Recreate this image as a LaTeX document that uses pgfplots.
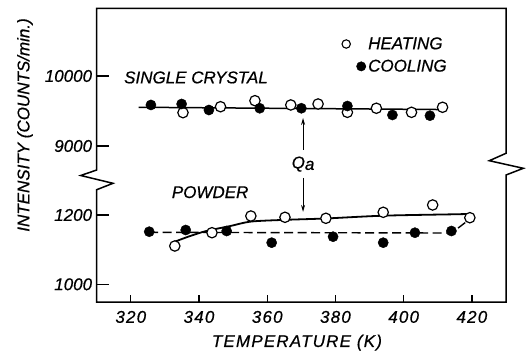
\documentclass[border=0pt]{standalone}
\usepackage{fontspec}
\setmainfont{Liberation Sans}[FakeBold=0.6]
\newfontfamily\widefont[LetterSpace=7,FakeBold=0.6]{Liberation Sans}
\usepackage{pgfplots}
\usepackage{pgfplotstable}
\usetikzlibrary{arrows.meta}
\pgfplotsset{compat=1.18}

\newcommand\lab{\fontsize{17bp}{20bp}\selectfont\itshape}
\newcommand\widelab{\fontsize{17bp}{20bp}\selectfont\widefont\itshape}

% single crystal, counts/min
\pgfplotstableread{
T I
325.9 9586
334.9 9600
342.9 9514
357.8 9539
370.0 9539
383.5 9571
396.7 9443
407.7 9433
}\crystalcool
\pgfplotstableread{
T I
335.3 9476
346.3 9561
356.4 9647
366.9 9586
374.9 9600
383.5 9481
392.0 9539
402.3 9481
411.4 9553
}\crystalheat
\pgfplotstableread{
T I
322.3 9553
410.0 9521
}\crystalfit

% powder, counts/min
\pgfplotstableread{
T I
325.4 1151.8
336.1 1156.7
348.1 1153.8
361.3 1120.1
379.3 1137.4
394.0 1120.1
403.3 1148.9
414.0 1153.8
}\powdercool
\pgfplotstableread{
T I
332.9 1110.5
343.8 1148.9
355.2 1197.1
365.2 1193.4
377.2 1190.5
394.0 1207.8
408.5 1228.9
419.4 1192.2
}\powderheat
\pgfplotstableread{
T I
332.9 1123
337.3 1139
342.2 1154
349.1 1168
355.2 1181
365.2 1186
377.2 1190
394.0 1198
414.5 1202
419.4 1203
}\powderheatfit
\pgfplotstableread{
T I
325.4 1150
414.0 1148
419.4 1188
}\powdercoolfit

\pgfplotsset{
  brk/.style={
    scale only axis, width=409.3bp, height=293.5bp,
    xmin=310, xmax=430, clip=false,
    axis line style={draw=none},
    scaled ticks=false,
    tick align=inside, tick pos=left,
    tick style={line width=1.3bp, black},
    major tick length=12bp,
    yticklabel style={font=\lab, inner sep=0pt, xshift=-4.4bp},
    xticklabel style={font=\widelab, inner sep=0pt, yshift=-8.7bp},
    /pgf/number format/assume math mode=true,
  },
  open/.style={only marks, mark=*, mark size=5.2bp,
    mark options={fill=white, draw=black, line width=1.2bp}},
  closed/.style={only marks, mark=*, mark size=5.1bp,
    mark options={fill=black, draw=black}},
}

\begin{document}
\begin{tikzpicture}
% frame with broken axis, x ticks and labels
\begin{axis}[brk, ymin=0, ymax=1, ytick=\empty,
  major tick length=7bp,
  xtick={320,340,...,420},
  xticklabels={320,340,360,380,400,420}]
  \coordinate (ll) at (rel axis cs:0,0);
  \draw[line width=1.5bp, line join=miter, miter limit=4]
    (rel axis cs:0,0.4497) -- (rel axis cs:0,1) -- (rel axis cs:1,1)
    -- (rel axis cs:1,0.5066) -- (rel axis cs:0.9592,0.4814)
    -- (rel axis cs:1.0423,0.4555) -- (rel axis cs:1,0.4327)
    -- (rel axis cs:1,0) -- (rel axis cs:0,0) -- (rel axis cs:0,0.3826)
    -- (rel axis cs:0.0398,0.4044) -- (rel axis cs:-0.0391,0.431)
    -- cycle;
  \node[font=\lab, anchor=base west, inner sep=0pt]
    at (rel axis cs:0.0667,0.7451) {SINGLE CRYSTAL};
  \node[font=\lab, anchor=base west, inner sep=0pt]
    at (rel axis cs:0.1832,0.3543) {POWDER};
  \node[font=\widelab, anchor=base west, inner sep=0pt]
    at (rel axis cs:0.2810,-0.1533) {TEMPERATURE (K)};
  \node[font=\lab, rotate=90, anchor=center, inner sep=0pt]
    at (rel axis cs:-0.1752,0.6031) {INTENSITY (COUNTS/min.)};
\end{axis}

% lower part: powder
\begin{axis}[brk, ymin=948.9, ymax=1796, xtick=\empty,
  ytick={1000,1200}, yticklabels={1000,1200}]
  \addplot[line width=1.8bp, smooth, tension=0.5] table[x=T,y=I] {\powderheatfit};
  \addplot[line width=1.4bp, dash pattern=on 9bp off 4.5bp] table[x=T,y=I] {\powdercoolfit};
  \addplot[open] table[x=T,y=I] {\powderheat};
  \addplot[closed] table[x=T,y=I] {\powdercool};
  \draw[line width=1bp, -{Stealth[length=7bp,width=4bp]}]
    (axis cs:370.5,1387.6) -- (axis cs:370.5,1480);
  \draw[line width=1bp, -{Stealth[length=7bp,width=4bp]}]
    (axis cs:370.5,1306.8) -- (axis cs:370.5,1209);
  \node[font=\lab, inner sep=0pt] at (axis cs:370.5,1347)
    {Q\raisebox{-1.5bp}{a}};
\end{axis}

% upper part: single crystal
\begin{axis}[brk, ymin=6771.4, ymax=10964, xtick=\empty,
  ytick={9000,10000}, yticklabels={9000,10000},
  legend style={at={(rel axis cs:0.5969,0.8409)}, anchor=west,
    draw=none, fill=none, inner sep=0pt, row sep=9bp, column sep=2bp,
    nodes={inner sep=0pt, font=\lab}},
  legend cell align=left]
  \addlegendimage{legend image code/.code={
    \path[draw=none, fill=none] (-5bp,-5bp) rectangle (20bp,5bp);
    \draw[line width=1.1bp, fill=white] (0bp,0bp) circle (4.2bp);}}
  \addlegendentry{HEATING}
  \addlegendimage{legend image code/.code={
    \path[draw=none, fill=none] (-5bp,-5bp) rectangle (20bp,5bp);
    \fill (15bp,0bp) circle (4.7bp);}}
  \addlegendentry{COOLING}
  \addplot[line width=1.5bp, forget plot] table[x=T,y=I] {\crystalfit};
  \addplot[open, forget plot] table[x=T,y=I] {\crystalheat};
  \addplot[closed, forget plot] table[x=T,y=I] {\crystalcool};
\end{axis}

\pgfresetboundingbox
\path (ll) ++(-96.7bp,-52bp) rectangle ++(526bp,354bp);
\end{tikzpicture}
\end{document}
